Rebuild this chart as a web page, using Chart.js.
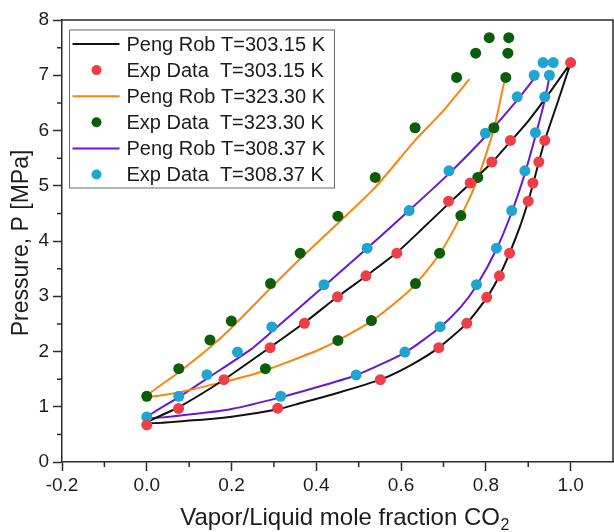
<!DOCTYPE html>
<html>
<head>
<meta charset="utf-8">
<script src="https://cdn.jsdelivr.net/npm/chart.js@4.4.1/dist/chart.umd.min.js"></script>
<style>
    html, body { margin: 0; padding: 0; background: #fff; overflow: hidden; }
    canvas { display: block; }
</style>
</head>
<body>
<canvas id="vleChart" width="614" height="532"></canvas>
<script>
// Peng-Robinson curves: [x CO2, P MPa], bubble branch (upper) and dew branch (lower)
const prBubble303 = [[0, 0.71], [0.075, 0.99], [0.18, 1.48], [0.29, 2.07], [0.37, 2.51], [0.45, 2.99], [0.52, 3.38],
    [0.59, 3.79], [0.65, 4.22], [0.714, 4.69], [0.763, 5.04], [0.814, 5.42], [0.858, 5.80], [0.90, 6.17], [0.95, 6.68], [1.0, 7.22]];
const prDew303 = [[0, 0.71], [0.1, 0.75], [0.2, 0.82], [0.307, 0.95], [0.36, 1.06], [0.45, 1.25], [0.551, 1.49], [0.62, 1.74],
    [0.689, 2.07], [0.755, 2.51], [0.802, 2.97], [0.832, 3.37], [0.856, 3.78], [0.88, 4.25], [0.90, 4.72], [0.912, 5.05],
    [0.925, 5.43], [0.939, 5.82], [0.972, 6.57], [1.0, 7.22]];

const prBubble323 = [[0, 1.19], [0.075, 1.62], [0.15, 2.08], [0.2, 2.43], [0.291, 3.14], [0.362, 3.68], [0.451, 4.32],
    [0.54, 4.98], [0.633, 5.82], [0.70, 6.36], [0.761, 6.93]];
const prDew323 = [[0, 1.19], [0.075, 1.26], [0.182, 1.45], [0.244, 1.57], [0.28, 1.66], [0.35, 1.86], [0.409, 2.04],
    [0.451, 2.20], [0.53, 2.55], [0.597, 2.95], [0.634, 3.22], [0.691, 3.77], [0.741, 4.45], [0.781, 5.13], [0.819, 6.03], [0.843, 6.87]];

const prBubble308 = [[0, 0.80], [0.075, 1.17], [0.15, 1.55], [0.244, 2.03], [0.295, 2.36], [0.418, 3.18], [0.52, 3.87],
    [0.62, 4.56], [0.713, 5.22], [0.80, 5.90], [0.874, 6.55], [0.917, 6.97]];
const prDew308 = [[0, 0.80], [0.1, 0.86], [0.2, 0.96], [0.316, 1.17], [0.409, 1.37], [0.494, 1.57], [0.609, 1.98],
    [0.692, 2.44], [0.74, 2.80], [0.778, 3.19], [0.825, 3.85], [0.861, 4.52], [0.892, 5.22], [0.917, 5.90], [0.939, 6.55], [0.95, 6.97]];

// Experimental points: [x CO2, P MPa]
const exp303 = [[0, 0.67], [0.075, 0.97], [0.182, 1.49], [0.291, 2.07], [0.372, 2.51], [0.450, 2.99], [0.517, 3.37],
    [0.590, 3.78], [0.712, 4.72], [0.763, 5.05], [0.814, 5.43], [0.858, 5.82], [1.0, 7.23],
    [0.309, 0.975], [0.551, 1.49], [0.689, 2.07], [0.755, 2.51], [0.802, 2.98], [0.832, 3.37], [0.856, 3.78],
    [0.900, 4.72], [0.911, 5.05], [0.925, 5.43], [0.939, 5.82]];
const exp323 = [[0, 1.19], [0.0755, 1.69], [0.149, 2.21], [0.1995, 2.55], [0.292, 3.23], [0.362, 3.78], [0.451, 4.45],
    [0.539, 5.15], [0.633, 6.05], [0.731, 6.96], [0.776, 7.40], [0.808, 7.68],
    [0.280, 1.69], [0.451, 2.20], [0.530, 2.56], [0.634, 3.23], [0.691, 3.78], [0.741, 4.46], [0.781, 5.15],
    [0.819, 6.05], [0.847, 6.96], [0.852, 7.40], [0.854, 7.68]];
const exp308 = [[0, 0.815], [0.0755, 1.19], [0.142, 1.58], [0.214, 1.99], [0.295, 2.445], [0.418, 3.21], [0.520, 3.87],
    [0.619, 4.55], [0.713, 5.27], [0.799, 5.95], [0.874, 6.61], [0.914, 7.0], [0.935, 7.23],
    [0.316, 1.19], [0.494, 1.575], [0.609, 1.99], [0.692, 2.45], [0.778, 3.21], [0.825, 3.87], [0.861, 4.55],
    [0.892, 5.27], [0.917, 5.96], [0.939, 6.61], [0.950, 7.0], [0.959, 7.23]];

const seriesLabels = ['Peng Rob T=303.15 K', 'Exp Data  T=303.15 K', 'Peng Rob T=323.30 K',
    'Exp Data  T=323.30 K', 'Peng Rob T=308.37 K', 'Exp Data  T=308.37 K'];
const xMajorTicks = [-0.2, 0, 0.2, 0.4, 0.6, 0.8, 1.0];
const xMinorTicks = [-0.1, 0.1, 0.3, 0.5, 0.7, 0.9];
const yMinorTicks = [0.5, 1.5, 2.5, 3.5, 4.5, 5.5, 6.5, 7.5];

const FONT = "'Liberation Sans', Arial, sans-serif";
const AXIS_COLOR = '#2b2b2b';
const TEXT_COLOR = '#1c1c1c';

const toPts = arr => arr.map(p => ({ x: p[0], y: p[1] }));
// one polyline: bubble branch walked backwards, then the dew branch
const envelope = (bubble, dew) => toPts(bubble.slice().reverse().concat(dew.slice(1)));

function lineSet(label, data, color) {
    return { label, data, showLine: true, borderColor: color, backgroundColor: color, borderWidth: 2,
        pointRadius: 0, tension: 0.2, order: 2, kind: 'line' };
}

function pointSet(label, data, color) {
    return { label, data: toPts(data), showLine: false, backgroundColor: color, borderColor: color,
        borderWidth: 0, pointRadius: 5.5, order: 1, kind: 'point' };
}

// Legend box drawn inside the plot, top left
const insideLegend = {
    id: 'insideLegend',
    afterDatasetsDraw(chart) {
        const { ctx, chartArea: a } = chart;
        const bx = a.left + 7.5, by = a.top + 10, bw = 265, bh = 158;
        ctx.save();
        ctx.fillStyle = '#fff';
        ctx.fillRect(bx, by, bw, bh);
        ctx.strokeStyle = '#6a6a6a';
        ctx.lineWidth = 1;
        ctx.strokeRect(bx, by, bw, bh);
        ctx.font = '20px ' + FONT;
        ctx.textBaseline = 'middle';
        chart.data.datasets.forEach((ds, i) => {
            const cy = a.top + 24 + i * 26.1;
            if (ds.kind === 'line') {
                ctx.strokeStyle = ds.borderColor;
                ctx.lineWidth = 2;
                ctx.beginPath();
                ctx.moveTo(bx + 3, cy);
                ctx.lineTo(bx + 50, cy);
                ctx.stroke();
            } else {
                ctx.fillStyle = ds.backgroundColor;
                ctx.beginPath();
                ctx.arc(bx + 27, cy, 5, 0, Math.PI * 2);
                ctx.fill();
            }
            ctx.fillStyle = TEXT_COLOR;
            ctx.fillText(ds.label, bx + 57, cy + 1);
        });
        ctx.restore();
    }
};

// Frame top/right, minor ticks and axis titles
const frameAndTitles = {
    id: 'frameAndTitles',
    afterDraw(chart) {
        const { ctx, chartArea: a, scales: { x, y } } = chart;
        ctx.save();
        ctx.strokeStyle = AXIS_COLOR;
        ctx.lineWidth = 1.5;
        ctx.beginPath();
        ctx.moveTo(a.left, a.top);
        ctx.lineTo(a.right, a.top);
        ctx.lineTo(a.right, a.bottom);
        ctx.stroke();

        ctx.beginPath();
        xMinorTicks.forEach(v => {
            const px = x.getPixelForValue(v);
            ctx.moveTo(px, a.bottom);
            ctx.lineTo(px, a.bottom + 5);
        });
        yMinorTicks.forEach(v => {
            const py = y.getPixelForValue(v);
            ctx.moveTo(a.left, py);
            ctx.lineTo(a.left - 5, py);
        });
        ctx.stroke();

        // x title with subscript
        ctx.fillStyle = TEXT_COLOR;
        ctx.textBaseline = 'alphabetic';
        ctx.font = '24px ' + FONT;
        const main = 'Vapor/Liquid mole fraction CO';
        const wMain = ctx.measureText(main).width;
        ctx.font = '16px ' + FONT;
        const wSub = ctx.measureText('2').width;
        const startX = (a.left + a.right) / 2 + 7 - (wMain + wSub) / 2;
        ctx.font = '24px ' + FONT;
        ctx.fillText(main, startX, 525);
        ctx.font = '16px ' + FONT;
        ctx.fillText('2', startX + wMain + 0.5, 530);

        // y title
        ctx.font = '23px ' + FONT;
        ctx.textAlign = 'center';
        ctx.translate(28, (a.top + a.bottom) / 2 + 2);
        ctx.rotate(-Math.PI / 2);
        ctx.fillText('Pressure, P [MPa]', 0, 0);
        ctx.restore();
    }
};

const ctx = document.getElementById('vleChart').getContext('2d');

new Chart(ctx, {
    type: 'scatter',
    data: {
        datasets: [
            lineSet(seriesLabels[0], envelope(prBubble303, prDew303), '#111111'),
            pointSet(seriesLabels[1], exp303, '#ee3f47'),
            lineSet(seriesLabels[2], envelope(prBubble323, prDew323), '#f7860c'),
            pointSet(seriesLabels[3], exp323, '#0b5c0b'),
            lineSet(seriesLabels[4], envelope(prBubble308, prDew308), '#6a17d4'),
            pointSet(seriesLabels[5], exp308, '#1fa5cf')
        ]
    },
    options: {
        responsive: false,
        animation: false,
        layout: { autoPadding: false, padding: { top: 20, right: 1, left: 0, bottom: 0 } },
        plugins: {
            legend: { display: false },
            tooltip: { enabled: false }
        },
        scales: {
            x: {
                type: 'linear',
                min: -0.2,
                max: 1.1,
                afterBuildTicks: s => { s.ticks = xMajorTicks.map(v => ({ value: v })); },
                afterFit: s => { s.height = 70; },
                ticks: {
                    color: TEXT_COLOR,
                    padding: 3,
                    font: { family: FONT, size: 19 },
                    callback: v => v.toFixed(1)
                },
                grid: { drawOnChartArea: false, tickLength: 9, tickWidth: 1.5, tickColor: AXIS_COLOR },
                border: { color: AXIS_COLOR, width: 1.5 }
            },
            y: {
                type: 'linear',
                min: 0,
                max: 8,
                afterFit: s => { s.width = 62; },
                ticks: {
                    stepSize: 1,
                    color: TEXT_COLOR,
                    padding: 4,
                    font: { family: FONT, size: 19 }
                },
                grid: { drawOnChartArea: false, tickLength: 9, tickWidth: 1.5, tickColor: AXIS_COLOR },
                border: { color: AXIS_COLOR, width: 1.5 }
            }
        }
    },
    plugins: [insideLegend, frameAndTitles]
});
</script>
</body>
</html>
